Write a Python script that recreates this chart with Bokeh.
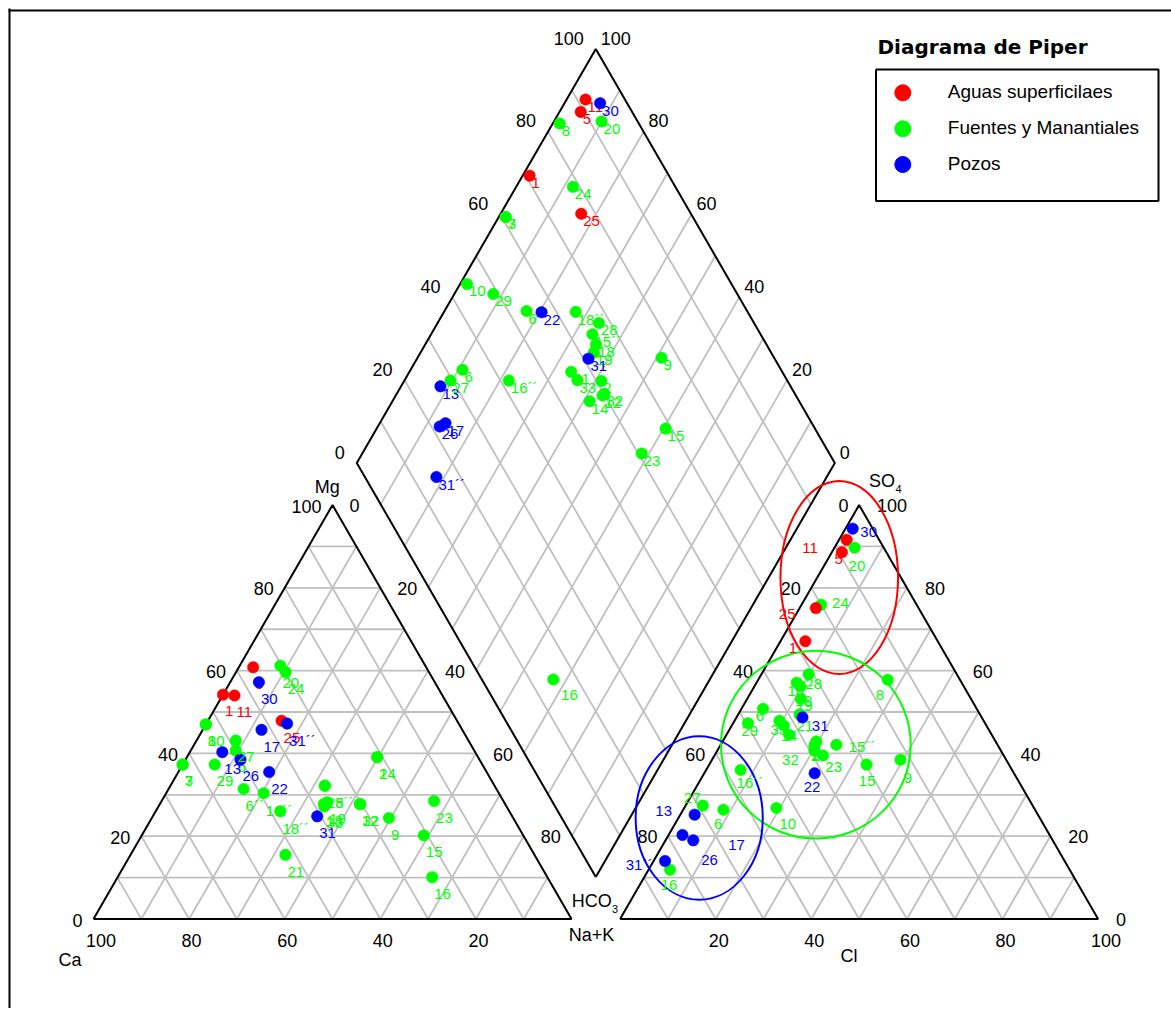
import math
from bokeh.plotting import figure
from bokeh.models import Range1d, ColumnDataSource
from bokeh.core.properties import value
from bokeh.embed import file_html
from bokeh.resources import INLINE

# ---------------- data (percent of meq) ----------------
samples = ["1", "2", "3", "5", "6", "6´´", "7", "8", "9", "10", "11", "12", "13", "14", "15",
           "15´´", "16", "16´´", "17", "18", "18´´", "19", "20", "21", "22", "23", "24", "25",
           "26", "27", "28", "29", "30", "31", "31´´", "32", "33"]
group = [0, 1, 1, 0, 1, 1, 1, 1, 1, 1, 0, 1, 2, 1, 1, 1, 1, 1, 2, 1, 1, 1, 1, 1, 2, 1, 1, 0,
         2, 1, 1, 1, 2, 2, 2, 1, 1]
ca = [45.8, 21.1, 62.7, 36.2, 49.9, 52.9, 62.7, 53.0, 26.0, 53.0, 43.5, 30.4, 52.9, 21.1, 20.8,
      35.5, 24.1, 49.2, 42.0, 37.9, 47.9, 37.0, 30.3, 52.1, 45.5, 14.5, 30.0, 36.7,
      50.0, 48.7, 35.5, 56.0, 36.8, 40.8, 35.9, 30.3, 38.1]
mg = [54.2, 39.1, 37.3, 60.8, 40.7, 31.4, 37.3, 47.0, 24.4, 47.0, 54.0, 27.8, 40.3, 39.1, 20.2,
      32.2, 10.1, 30.4, 45.7, 27.8, 26.0, 28.2, 61.2, 15.5, 35.5, 28.5, 59.6, 47.9,
      38.5, 43.1, 32.2, 37.3, 57.2, 24.8, 47.2, 27.7, 27.2]
nak = [0.0, 39.8, 0.0, 3.0, 9.4, 15.7, 0.0, 0.0, 49.6, 0.0, 2.5, 41.8, 6.8, 39.8, 59.0,
       32.3, 65.8, 20.4, 12.3, 34.3, 26.1, 34.8, 8.5, 32.4, 19.0, 57.0, 10.4, 15.4,
       11.5, 8.2, 32.3, 6.7, 6.0, 34.4, 16.9, 42.0, 34.7]
hco3 = [27.7, 37.5, 37.7, 9.3, 65.2, 44.7, 37.7, 15.1, 22.1, 53.9, 6.8, 39.0, 71.8, 42.4, 29.8,
        33.7, 83.6, 56.8, 75.2, 34.2, 34.5, 35.6, 6.1, 42.7, 41.7, 37.8, 20.0, 21.5,
        76.8, 69.0, 31.0, 49.6, 4.2, 37.5, 83.6, 38.4, 42.4]
so4 = [67.1, 42.9, 49.4, 88.6, 26.4, 50.8, 49.4, 57.8, 38.5, 26.8, 91.6, 40.7, 25.2, 44.5, 37.3,
       42.1, 11.9, 36.0, 19.0, 56.2, 57.1, 53.2, 89.7, 47.9, 35.2, 39.5, 75.9, 75.1,
       20.3, 27.4, 59.1, 47.3, 94.3, 48.7, 14.0, 41.9, 46.7]
cl = [5.2, 19.6, 12.9, 2.1, 8.4, 4.5, 12.9, 27.1, 39.4, 19.3, 1.6, 20.3, 3.0, 13.1, 32.9,
      24.2, 4.5, 7.2, 5.8, 9.6, 8.4, 11.2, 4.2, 9.4, 23.1, 22.7, 4.1, 3.4,
      2.9, 3.6, 9.9, 3.1, 1.5, 13.8, 2.4, 19.7, 10.9]

group_names = ["Aguas superficilaes", "Fuentes y Manantiales", "Pozos"]
group_colors = ["#ff0000", "#00ff00", "#0000ff"]
title_text = "Diagrama de Piper"

# highlight ellipses in anion triangle: (SO4 %, Cl %, width % of side, height % of side)
ell_so4 = [82.5, 42.1, 24.4]
ell_cl = [4.6, 19.9, 4.35]
ell_w = [24.6, 39.7, 26.6]
ell_h = [40.4, 39.3, 34.2]
ell_color = ["#ff0000", "#00ff00", "#0000ff"]

# ---------------- geometry (layout) ----------------
SIDE = 478.0
H = SIDE * math.sqrt(3) / 2
X0, Y0 = 93.0, 918.5
GAP = 48.6
XR = X0 + SIDE + GAP
BX = X0 + SIDE + GAP / 2
BY = Y0 - GAP / 2 * math.sqrt(3)
DSHIFT = 12.0
BASE_ADJ = 0.41   # em fraction to lift text so that alphabetic baselines land right

W, HGT = 1171, 1008
FONT = value("Liberation Sans")


def cat_xy(c, m, n):
    t = c + m + n
    m, n = m / t, n / t
    return X0 + SIDE * (n + m / 2), Y0 - H * m


def an_xy(h, s, c):
    t = h + s + c
    s, c = s / t, c / t
    return XR + SIDE * (c + s / 2), Y0 - H * s


def dia_frame(a, b):
    return BX + SIDE / 2 * (b - (1 - a)), BY - H * ((1 - a) + b)


p = figure(width=W, height=HGT, x_range=Range1d(0, W), y_range=Range1d(HGT, 0),
           output_backend="svg", toolbar_location=None, min_border=0,
           x_axis_location=None, y_axis_location=None)
p.xgrid.visible = False
p.ygrid.visible = False
p.outline_line_color = None
p.background_fill_color = "white"

# ---------------- grid ----------------
gx0, gy0, gx1, gy1 = [], [], [], []


def seg(pa, pb):
    gx0.append(pa[0]); gy0.append(pa[1]); gx1.append(pb[0]); gy1.append(pb[1])


for k in range(1, 10):
    v = 10 * k
    seg(cat_xy(100 - v, v, 0), cat_xy(0, v, 100 - v))
    seg(cat_xy(100 - v, 0, v), cat_xy(0, 100 - v, v))
    seg(cat_xy(v, 0, 100 - v), cat_xy(v, 100 - v, 0))
    seg(an_xy(100 - v, v, 0), an_xy(0, v, 100 - v))
    seg(an_xy(100 - v, 0, v), an_xy(0, 100 - v, v))
    seg(an_xy(v, 0, 100 - v), an_xy(v, 100 - v, 0))
    t = v / 100
    seg(dia_frame(t, 0), dia_frame(t, 1))
    seg(dia_frame(0, t), dia_frame(1, t))
p.segment(gx0, gy0, gx1, gy1, line_color="#c0c0c0", line_width=1.8)

# ---------------- outlines ----------------
tri_c = [cat_xy(100, 0, 0), cat_xy(0, 100, 0), cat_xy(0, 0, 100), cat_xy(100, 0, 0)]
tri_a = [an_xy(100, 0, 0), an_xy(0, 100, 0), an_xy(0, 0, 100), an_xy(100, 0, 0)]
dia = [dia_frame(1, 0), dia_frame(0, 0), dia_frame(0, 1), dia_frame(1, 1), dia_frame(1, 0)]
for poly in (tri_c, tri_a, dia):
    p.line([q[0] for q in poly], [q[1] for q in poly], line_color="black", line_width=2)

# page border (top and left)
p.segment([8, 9], [10, 8], [1171, 9], [10, 1012], line_color="black", line_width=2)

# ---------------- tick labels ----------------
TICK_FS = 18
tk = dict(x=[], y=[], t=[], xo=[], yo=[])
tk_r = dict(x=[], y=[], t=[], xo=[], yo=[])


def add_tick(dst, pt, txt, xo, yo):
    dst["x"].append(pt[0]); dst["y"].append(pt[1]); dst["t"].append(txt)
    dst["xo"].append(xo); dst["yo"].append(yo - BASE_ADJ * TICK_FS)


for v in [100, 80, 60, 40, 20]:
    add_tick(tk, cat_xy(v, 0, 100 - v), str(v), -7.5, 28.5)
for v in [0, 20, 40, 60, 80, 100]:
    add_tick(tk_r, cat_xy(100 - v, v, 0), str(v), -11, 8.5)
for v in [0, 20, 40, 60, 80]:
    add_tick(tk, cat_xy(0, 100 - v, v), str(v), 17, 8)
for v in [0, 20, 40, 60, 80]:
    add_tick(tk_r, an_xy(v, 100 - v, 0), str(v), -10.5, 8)
for v in [0, 20, 40, 60, 80, 100]:
    add_tick(tk, an_xy(0, v, 100 - v), str(v), 18, 8)
for v in [20, 40, 60, 80, 100]:
    add_tick(tk, an_xy(100 - v, 0, v), str(v), -7, 28.5)
for v in [0, 20, 40, 60, 80, 100]:
    add_tick(tk_r, dia_frame(0, v / 100), str(v), -12, -3.5)
    add_tick(tk, dia_frame(1 - v / 100, 1), str(v), 5, -3.5)

p.text("x", "y", text="t", x_offset="xo", y_offset="yo", source=ColumnDataSource(tk),
       text_font=FONT, text_font_size=f"{TICK_FS}px", text_color="black",
       text_align="left", text_baseline="alphabetic")
p.text("x", "y", text="t", x_offset="xo", y_offset="yo", source=ColumnDataSource(tk_r),
       text_font=FONT, text_font_size=f"{TICK_FS}px", text_color="black",
       text_align="right", text_baseline="alphabetic")

# ---------------- axis names ----------------
names = [
    ("Mg", cat_xy(0, 100, 0), -5.3, -10.5, "center", 18),
    ("Ca", cat_xy(100, 0, 0), -35, 48.5, "left", 18),
    ("Na+K", cat_xy(0, 0, 100), 20, 23.2, "center", 18),
    ("HCO", an_xy(100, 0, 0), -48.3, -10.2, "left", 18),
    ("3", an_xy(100, 0, 0), -8, -5, "left", 11),
    ("SO", an_xy(0, 100, 0), 10, -16.5, "left", 18),
    ("4", an_xy(0, 100, 0), 36.5, -12, "left", 11),
    ("Cl", an_xy(50, 0, 50), -10, 44.2, "center", 18),
]
for txt, pt, xo, yo, al, fs in names:
    p.text([pt[0]], [pt[1]], text=[txt], x_offset=xo, y_offset=yo - BASE_ADJ * fs,
           text_font=FONT, text_font_size=f"{fs}px", text_color="black", text_align=al,
           text_baseline="alphabetic")

# ---------------- highlight ellipses ----------------
for i in range(3):
    ex, ey = an_xy(100 - ell_so4[i] - ell_cl[i], ell_so4[i], ell_cl[i])
    p.ellipse([ex], [ey], width=SIDE * ell_w[i] / 100, height=SIDE * ell_h[i] / 100,
              fill_color=None, line_color=ell_color[i], line_width=2)

# ---------------- samples ----------------
LBL_FS = 15
DEF_OFF = {"L": (2, 23), "R": (-5, 21), "D": (2, 13.5)}
LABEL_OFF = {
    ("R", "30"): (7.7, 9.7), ("R", "11"): (-44.3, 14), ("R", "5"): (-7.3, 13.3),
    ("R", "20"): (-6, 24.4), ("R", "24"): (11, 4), ("R", "25"): (-37, 11.6),
    ("R", "1"): (-16.7, 12.6), ("R", "27"): (-19, -1.7), ("R", "13"): (-39.3, 2.7),
    ("R", "31´´"): (-39.3, 9.3), ("R", "26"): (18.7, 30.7), ("R", "17"): (35, 10.7),
    ("R", "31"): (9.4, 14.3), ("R", "15´´"): (12.3, 8.3), ("R", "8"): (-12, 21),
    ("R", "9"): (3.4, 24.5), ("R", "29"): (-6.6, 14), ("R", "23"): (2.3, 17.3),
    ("R", "22"): (-11, 19.6), ("R", "15"): (-7.7, 22.7), ("R", "16´´"): (-4, 19),
    ("R", "6"): (-9.4, 20.7), ("R", "10"): (3, 22.3), ("R", "16"): (-9.3, 21.7),
    ("R", "6´´"): (-7.3, 13.4), ("R", "28"): (-3.3, 16), ("R", "18´´"): (-9.3, 14.4),
    ("R", "19"): (-5, 13.4), ("R", "14"): (-8.3, 7.4), ("R", "32"): (-32.3, 20.7),
    ("R", "12"): (-4, 11), ("R", "33"): (-13.3, 10), ("R", "3"): (-2, 7), ("R", "7"): (-2, 7),
    ("R", "21"): (17, 11), ("D", "16"): (7.8, 21.4),
}

for i, s in enumerate(samples):
    col = group_colors[group[i]]
    cx, cy = cat_xy(ca[i], mg[i], nak[i])
    ax, ay = an_xy(hco3[i], so4[i], cl[i])
    a = nak[i] / (ca[i] + mg[i] + nak[i])
    b = (so4[i] + cl[i]) / (hco3[i] + so4[i] + cl[i])
    dx, dy = dia_frame(a, b)
    dy += DSHIFT
    offs = [LABEL_OFF.get((pane, s), DEF_OFF[pane]) for pane in ("L", "R", "D")]
    src = ColumnDataSource(dict(x=[cx, ax, dx], y=[cy, ay, dy], t=[s] * 3,
                                xo=[o[0] for o in offs],
                                yo=[o[1] - BASE_ADJ * LBL_FS for o in offs]))
    p.scatter("x", "y", source=src, size=11.5, fill_color=col, line_color=col, line_width=0.5)
    p.text("x", "y", text="t", x_offset="xo", y_offset="yo", source=src, text_color=col,
           text_font=FONT, text_font_size=f"{LBL_FS}px", text_align="left",
           text_baseline="alphabetic")

# ---------------- legend ----------------
LEG_X0, LEG_X1, LEG_Y0, LEG_Y1 = 875.5, 1158, 69, 200.5
p.text([877], [55], text=[title_text], y_offset=-BASE_ADJ * 20, text_font=value("DejaVu Sans"),
       text_font_size="20px", text_font_style="bold", text_color="black", text_align="left",
       text_baseline="alphabetic")
p.line([LEG_X0, LEG_X1, LEG_X1, LEG_X0, LEG_X0], [LEG_Y0, LEG_Y0, LEG_Y1, LEG_Y1, LEG_Y0],
       line_color="black", line_width=2)
leg_y = [92.3, 128.3, 164]
p.scatter([902.3] * 3, leg_y, size=16, fill_color=group_colors, line_color=group_colors)
p.text([947.3] * 3, [yy + 6.8 for yy in leg_y], text=group_names, y_offset=-BASE_ADJ * 19,
       text_font=FONT, text_font_size="19px", text_color="black", text_align="left",
       text_baseline="alphabetic")

with open("out.html", "w", encoding="utf-8") as f:
    f.write(file_html(p, INLINE, title="Diagrama de Piper"))
